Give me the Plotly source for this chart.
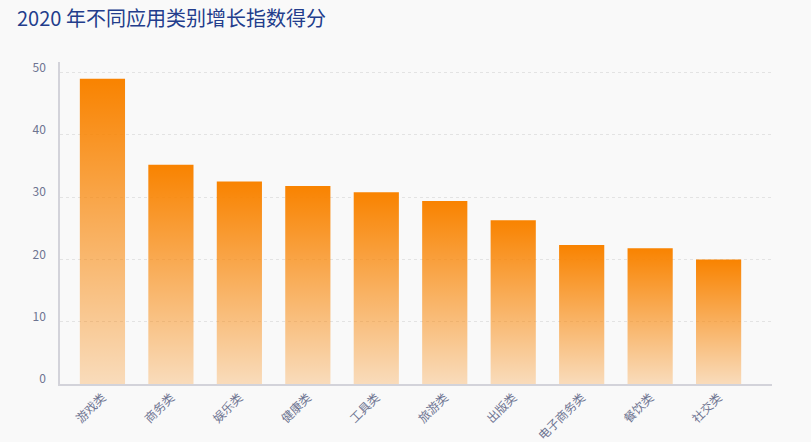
import plotly.graph_objects as go

categories = ["游戏类", "商务类", "娱乐类", "健康类", "工具类", "旅游类", "出版类", "电子商务类", "餐饮类", "社交类"]
scores = [49.0, 35.2, 32.5, 31.8, 30.8, 29.4, 26.3, 22.3, 21.8, 20.0]
y_ticks = [0, 10, 20, 30, 40, 50]

bar_width = 0.66
font_family = "Noto Sans CJK SC, Noto Sans, sans-serif"

fig = go.Figure()
for i, (cat, v) in enumerate(zip(categories, scores)):
    x0, x1 = i - bar_width / 2, i + bar_width / 2
    fig.add_trace(go.Scatter(
        x=[x0, x1, x1, x0, x0],
        y=[0, 0, v, v, 0],
        mode="lines",
        line=dict(width=0),
        fill="toself",
        fillgradient=dict(
            type="vertical",
            colorscale=[[0, "rgba(249,131,0,0.25)"], [1, "rgba(249,131,0,1)"]],
            start=0,
            stop=v,
        ),
        hoverinfo="text",
        text=f"{cat}: {v}",
        showlegend=False,
    ))

fig.update_layout(
    width=811,
    height=442,
    paper_bgcolor="#F9F9F9",
    plot_bgcolor="#F9F9F9",
    margin=dict(l=60, r=39, t=62, b=58, autoexpand=False),
    font=dict(family=font_family, size=12, color="#6E7491"),
    title=dict(
        text="2020 年不同应用类别增长指数得分",
        x=0.021, xanchor="left",
        y=0.958, yanchor="middle",
        font=dict(family=font_family, size=20, color="#233D8C"),
    ),
    showlegend=False,
)

fig.update_xaxes(
    range=[-0.62, 9.78],
    tickmode="array",
    tickvals=list(range(len(categories))),
    ticktext=categories,
    tickangle=-45,
    automargin=False,
    showgrid=False,
    zeroline=False,
    showline=True,
    linecolor="#D3D3DA",
    linewidth=1.5,
    ticks="",
    tickfont=dict(size=12, color="#6E7491"),
)
fig.update_yaxes(
    range=[0, 51.7],
    tickmode="array",
    tickvals=y_ticks,
    automargin=False,
    showgrid=True,
    gridcolor="#E3E3E3",
    griddash="dot",
    gridwidth=1,
    zeroline=False,
    showline=True,
    linecolor="#D3D3DA",
    linewidth=1.5,
    ticks="",
    ticklabelstandoff=10,
    ticklabelshift=-5,
    tickfont=dict(size=12, color="#6E7491"),
)

fig.write_html(
    "out.html",
    config={"displayModeBar": False},
    post_script="document.body.style.margin='0';document.body.style.background='#F9F9F9';",
)
